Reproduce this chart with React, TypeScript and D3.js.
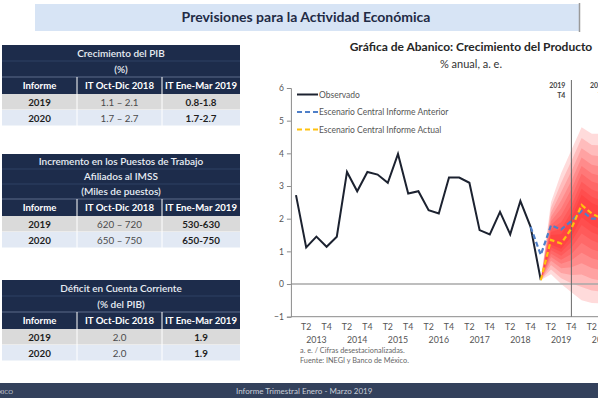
import * as d3 from 'd3'
import {useRef, useEffect} from 'react'

// observed annual growth, 2013 T1 .. 2019 T1
const observado = [2.72, 1.12, 1.45, 1.14, 1.45, 3.43, 2.84, 3.43, 3.35, 3.1, 3.98, 2.77,
  2.84, 2.26, 2.16, 3.26, 3.26, 3.1, 1.65, 1.52, 2.21, 1.52, 2.54, 1.75, 0.12]
// previous report central scenario, from 2018 T4
const anterior = [1.75, 0.89, 1.8, 1.67, 1.93, 2.24, 2.0, 2.0]
const anteriorStart = 23
// current report central scenario, from 2019 T1
const actual = [0.12, 1.35, 1.24, 1.7, 2.42, 2.16, 2.0]
const actualStart = 24
// outer limits of the fan
const fanUpper = [0.12, 2.5, 3.4, 4.1, 4.8, 4.6, 4.6]
const fanLower = [0.12, 0.3, 0.0, -0.25, -0.5, -0.58, -0.6]
const fanLevels = [1, 0.86, 0.73, 0.61, 0.5, 0.4, 0.3, 0.21, 0.13]

const years = ['2013', '2014', '2015', '2016', '2017', '2018', '2019', '2020']
const yTicks = [-1, 0, 1, 2, 3, 4, 5, 6]
const legendItems = ['Observado', 'Escenario Central Informe Anterior', 'Escenario Central Informe Actual']

const colHeaders = ['Informe', 'IT Oct-Dic 2018', 'IT Ene-Mar 2019']
const rowYears = ['2019', '2020']
const pibTitle = ['Crecimiento del PIB', '(%)']
const pibPrev = ['1.1 – 2.1', '1.7 – 2.7']
const pibNew = ['0.8-1.8', '1.7-2.7']
const empleoTitle = ['Incremento en los Puestos de Trabajo', 'Afiliados al IMSS', '(Miles de puestos)']
const empleoPrev = ['620 – 720', '650 – 750']
const empleoNew = ['530-630', '650-750']
const cuentaTitle = ['Déficit en Cuenta Corriente', '(% del PIB)']
const cuentaPrev = ['2.0', '2.0']
const cuentaNew = ['1.9', '1.9']

const FONT = 'Lato, "Open Sans", sans-serif'
const NAVY = '#1d2c4b'

const App = () => {
  const svgRef = useRef(null)
  const W = 598
  const H = 398

  const drawTable = (svg: any, top: number, title: string[], prev: string[], next: string[]) => {
    const g = svg.append('g')
    const left = 2
    const right = 240
    const cols = [left, 77, 162, right]
    const lineH = title.length === 3 ? 15 : 16
    const blockH = title.length * lineH
    g.append('rect').attr('x', left).attr('y', top).attr('width', right - left)
      .attr('height', blockH + 17).attr('fill', NAVY)
    title.forEach((t, i) => {
      g.append('text').attr('x', (left + right) / 2).attr('y', top + lineH * i + lineH / 2 + 3.7)
        .attr('text-anchor', 'middle').attr('fill', '#e8ecf3').attr('font-size', 10)
        .attr('font-weight', 600).text(t)
      if (i > 0) {
        g.append('line').attr('x1', left).attr('x2', right).attr('y1', top + lineH * i).attr('y2', top + lineH * i)
          .attr('stroke', '#34476b').attr('stroke-width', 0.8)
      }
    })
    const hy = top + blockH
    g.append('line').attr('x1', left).attr('x2', right).attr('y1', hy).attr('y2', hy)
      .attr('stroke', '#6d7c99').attr('stroke-width', 0.8)
    colHeaders.forEach((c, i) => {
      g.append('text').attr('x', (cols[i] + cols[i + 1]) / 2).attr('y', hy + 11.8)
        .attr('text-anchor', 'middle').attr('fill', '#ffffff').attr('font-size', 9.6)
        .attr('font-weight', 700).text(c)
    })
    const rowTop = hy + 17
    const rowH = 16
    rowYears.forEach((yr, r) => {
      const ry = rowTop + r * rowH
      g.append('rect').attr('x', left).attr('y', ry).attr('width', right - left).attr('height', rowH - 0.5)
        .attr('fill', r === 0 ? '#dadada' : '#e2e9f4')
      const vals = [yr, prev[r], next[r]]
      vals.forEach((v, i) => {
        g.append('text').attr('x', (cols[i] + cols[i + 1]) / 2).attr('y', ry + 11.8)
          .attr('text-anchor', 'middle').attr('font-size', 9.8)
          .attr('fill', i === 1 ? '#4a4a4a' : '#1e1e1e')
          .attr('font-weight', i === 1 ? 400 : 700).text(v)
      })
    })
    ;[cols[1], cols[2]].forEach(cx => {
      g.append('line').attr('x1', cx).attr('x2', cx).attr('y1', hy).attr('y2', rowTop + 2 * rowH)
        .attr('stroke', '#ffffff').attr('stroke-width', 1)
    })
  }

  const drawChart = (): void => {
    const svg = d3.select(svgRef.current)
    svg.attr('width', W).attr('height', H)
    svg.selectAll('*').remove()
    svg.style('font-family', FONT)

    svg.append('rect').attr('width', W).attr('height', H).attr('fill', '#ffffff')

    // title bar
    svg.append('rect').attr('x', 35).attr('y', 4).attr('width', 544).attr('height', 27)
      .attr('fill', '#d7e4f5')
    svg.append('line').attr('x1', 579.5).attr('x2', 579.5).attr('y1', 3).attr('y2', 32)
      .attr('stroke', '#9a9a9a').attr('stroke-width', 1.5)
    svg.append('text').attr('x', 306).attr('y', 22).attr('text-anchor', 'middle')
      .attr('font-size', 14).attr('font-weight', 700).attr('fill', '#1f2b45')
      .text('Previsiones para la Actividad Económica')

    drawTable(svg, 45, pibTitle, pibPrev, pibNew)
    drawTable(svg, 154, empleoTitle, empleoPrev, empleoNew)
    drawTable(svg, 280, cuentaTitle, cuentaPrev, cuentaNew)

    // fan chart
    const x = d3.scaleLinear().domain([0, 27]).range([296, 571.4])
    const y = d3.scaleLinear().domain([-1, 6]).range([316.7, 88])
    const x0 = x(-0.5)

    svg.append('text').attr('x', 471).attr('y', 51).attr('text-anchor', 'middle')
      .attr('font-size', 12).attr('font-weight', 700).attr('fill', '#262626')
      .text('Gráfica de Abanico: Crecimiento del Producto')
    svg.append('text').attr('x', 471).attr('y', 67.5).attr('text-anchor', 'middle')
      .attr('font-size', 11).attr('fill', '#333')
      .text('% anual, a. e.')

    const fanG = svg.append('g')
    fanLevels.forEach(f => {
      const area = d3.area<number>()
        .x((d, i) => x(actualStart + i))
        .y0((d, i) => y(d - f * (d - fanLower[i])))
        .y1((d, i) => y(d + f * (fanUpper[i] - d)))
      fanG.append('path').datum(actual).attr('d', area)
        .attr('fill', '#ff1010').attr('fill-opacity', 0.15)
    })

    // zero line
    svg.append('line').attr('x1', x0).attr('x2', W).attr('y1', y(0)).attr('y2', y(0))
      .attr('stroke', '#a8a8a8').attr('stroke-width', 1.5)

    // y axis
    const yAxis = d3.axisLeft(y).tickValues(yTicks).tickSize(4).tickFormat(d3.format('d'))
    const ya = svg.append('g').attr('transform', `translate(${x0},0)`).call(yAxis)
    ya.select('.domain').attr('stroke', '#8a8a8a')
    ya.selectAll('.tick line').attr('stroke', '#8a8a8a')
    ya.selectAll('.tick text').attr('fill', '#555').attr('font-size', 8.5).attr('font-family', FONT)

    // bottom axis line at -1
    svg.append('line').attr('x1', x0).attr('x2', W).attr('y1', y(-1)).attr('y2', y(-1))
      .attr('stroke', '#8a8a8a').attr('stroke-width', 1)

    // quarter and year labels
    d3.range(0, 32).forEach(i => {
      if (i % 4 === 1 || i % 4 === 3) {
        svg.append('text').attr('x', x(i)).attr('y', y(-1) + 13).attr('text-anchor', 'middle')
          .attr('font-size', 8.8).attr('fill', '#555').text(i % 4 === 1 ? 'T2' : 'T4')
      }
    })
    years.forEach((yr, k) => {
      svg.append('text').attr('x', x(k * 4 + 2)).attr('y', y(-1) + 26).attr('text-anchor', 'middle')
        .attr('font-size', 8.8).attr('fill', '#555').text(yr)
    })

    // vertical markers
    ;[27, 31].forEach((q, k) => {
      svg.append('line').attr('x1', x(q)).attr('x2', x(q)).attr('y1', 80).attr('y2', y(-1))
        .attr('stroke', '#6a6a6a').attr('stroke-width', 1)
      svg.append('text').attr('x', x(q) - 6).attr('y', 88).attr('text-anchor', 'end')
        .attr('font-size', 7).attr('font-weight', 700).attr('fill', '#444').text(years[6 + k])
      svg.append('text').attr('x', x(q) - 6).attr('y', 98).attr('text-anchor', 'end')
        .attr('font-size', 7).attr('font-weight', 700).attr('fill', '#444').text('T4')
    })

    const line = d3.line<number>()
    svg.append('path')
      .datum(observado)
      .attr('d', line.x((d, i) => x(i)).y(d => y(d)))
      .attr('fill', 'none').attr('stroke', '#1c2230').attr('stroke-width', 2)
    svg.append('path')
      .datum(anterior)
      .attr('d', d3.line<number>().x((d, i) => x(anteriorStart + i)).y(d => y(d)))
      .attr('fill', 'none').attr('stroke', '#4f7fc8').attr('stroke-width', 2.2)
      .attr('stroke-dasharray', '5,3')
    svg.append('path')
      .datum(actual)
      .attr('d', d3.line<number>().x((d, i) => x(actualStart + i)).y(d => y(d)))
      .attr('fill', 'none').attr('stroke', '#ffc20e').attr('stroke-width', 2.2)
      .attr('stroke-dasharray', '5,3')

    // legend
    const legStyles = [
      {stroke: '#1c2230', dash: 'none'},
      {stroke: '#4f7fc8', dash: '5,3'},
      {stroke: '#ffc20e', dash: '5,3'},
    ]
    legendItems.forEach((t, i) => {
      const ly = 94.5 + i * 17.5
      svg.append('line').attr('x1', 297).attr('x2', 318).attr('y1', ly).attr('y2', ly)
        .attr('stroke', legStyles[i].stroke).attr('stroke-width', 2)
        .attr('stroke-dasharray', legStyles[i].dash)
      svg.append('text').attr('x', 319).attr('y', ly + 3).attr('font-size', 8.5)
        .attr('fill', '#555').text(t)
    })

    // notes
    svg.append('text').attr('x', 300).attr('y', 353).attr('font-size', 7.3).attr('fill', '#666')
      .text('a. e. / Cifras desestacionalizadas.')
    svg.append('text').attr('x', 300).attr('y', 362.5).attr('font-size', 7.3).attr('fill', '#666')
      .text('Fuente: INEGI y Banco de México.')

    // footer
    svg.append('rect').attr('x', 0).attr('y', 383).attr('width', W).attr('height', 15).attr('fill', '#33415c')
    svg.append('text').attr('x', 236).attr('y', 394).attr('font-size', 8).attr('fill', '#c9ced8')
      .text('Informe Trimestral Enero - Marzo 2019')
    svg.append('text').attr('x', 13).attr('y', 393.5).attr('text-anchor', 'end').attr('font-size', 6)
      .attr('fill', '#c9ced8').text('BANCO DE MÉXICO')
  }

  useEffect((): void => drawChart(), [])

  return (
    <div style={{position: 'absolute', left: 0, top: 0}}>
      <svg ref={svgRef} style={{display: 'block'}}></svg>
    </div>
  )
}

export default App
